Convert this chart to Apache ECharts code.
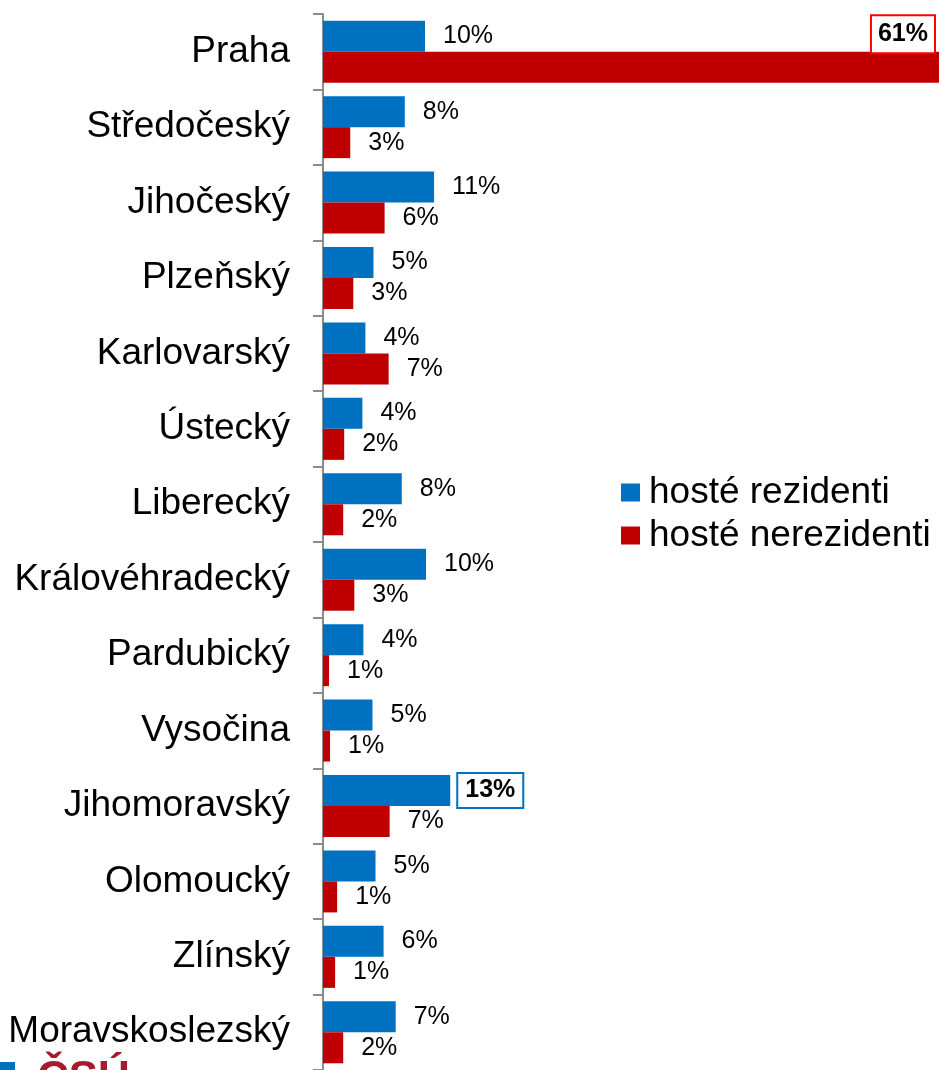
<!DOCTYPE html>
<html>
<head>
<meta charset="utf-8">
<script src="https://cdn.jsdelivr.net/npm/echarts@6/dist/echarts.min.js"></script>
<style>
  html, body { margin: 0; padding: 0; background: #fff; }
  #chart { width: 939px; height: 1070px; }
</style>
</head>
<body>
<div id="chart"></div>
<script>
// kraje, shora dolů
var regions = ['Praha', 'Středočeský', 'Jihočeský', 'Plzeňský', 'Karlovarský', 'Ústecký', 'Liberecký',
    'Královéhradecký', 'Pardubický', 'Vysočina', 'Jihomoravský', 'Olomoucký', 'Zlínský', 'Moravskoslezský'];
// podíl hostů v %
var residents = [10.1, 8.1, 11.0, 5.0, 4.2, 3.9, 7.8, 10.2, 4.0, 4.9, 12.6, 5.2, 6.0, 7.2];
var nonResidents = [61, 2.7, 6.1, 3.0, 6.5, 2.1, 2.0, 3.1, 0.6, 0.7, 6.6, 1.4, 1.2, 2.0];

var blue = '#0070C0';
var red = '#C00000';

function pct(p) {
    return Math.round(p.value) + '%';
}

var residentData = residents.map(function(v, i) {
    if (regions[i] === 'Jihomoravský') {
        return {
            value: v,
            label: {
                fontWeight: 'bold',
                borderColor: blue,
                borderWidth: 2,
                backgroundColor: '#fff',
                padding: [5, 7, 3, 7],
                distance: 8
            }
        };
    }
    return v;
});

var nonResidentData = nonResidents.map(function(v, i) {
    if (regions[i] === 'Praha') {
        return {
            value: v,
            label: {
                position: 'insideRight',
                offset: [13, -33],
                fontWeight: 'bold',
                borderColor: '#ff0000',
                borderWidth: 2,
                backgroundColor: '#fff',
                padding: [7, 6, 4, 6]
            }
        };
    }
    return v;
});

var myChart = echarts.init(document.getElementById('chart'));

var options = {
    animation: false,
    textStyle: { fontFamily: 'Liberation Sans, Arial, sans-serif' },
    legend: {
        orient: 'vertical',
        left: 621,
        top: 474,
        padding: 0,
        itemWidth: 19,
        itemHeight: 18,
        itemGap: 6,
        icon: 'rect',
        textStyle: { fontSize: 37, color: '#000', padding: [0, 0, 0, 4] },
        data: ['hosté rezidenti', 'hosté nerezidenti']
    },
    grid: {
        left: 323,
        right: 0,
        top: 14,
        height: 1058
    },
    xAxis: {
        type: 'value',
        min: 0,
        max: 61,
        show: false
    },
    yAxis: {
        type: 'category',
        inverse: true,
        data: regions,
        axisLine: { show: true, lineStyle: { color: '#8c8c8c', width: 2 } },
        axisTick: { show: true, length: 10, lineStyle: { color: '#8c8c8c', width: 2 } },
        axisLabel: { fontSize: 37, color: '#000', margin: 33, padding: [4, 0, 0, 0] }
    },
    series: [{
        name: 'hosté rezidenti',
        type: 'bar',
        barWidth: 31,
        barGap: '0%',
        itemStyle: { color: blue },
        label: {
            show: true,
            position: 'right',
            distance: 18,
            fontSize: 25,
            color: '#000',
            padding: [4, 0, 0, 0],
            formatter: pct
        },
        data: residentData
    }, {
        name: 'hosté nerezidenti',
        type: 'bar',
        barWidth: 31,
        barGap: '0%',
        itemStyle: { color: red },
        label: {
            show: true,
            position: 'right',
            distance: 18,
            fontSize: 25,
            color: '#000',
            padding: [4, 0, 0, 0],
            formatter: pct
        },
        data: nonResidentData
    }],
    graphic: [{
        type: 'rect',
        left: 0,
        top: 1062,
        shape: { width: 15, height: 10 },
        style: { fill: blue }
    }, {
        type: 'text',
        left: 37,
        top: 1058,
        style: { text: 'ČSÚ', font: 'bold 44px Liberation Sans', fill: '#a51b2e' }
    }]
};
myChart.setOption(options);
</script>
</body>
</html>
